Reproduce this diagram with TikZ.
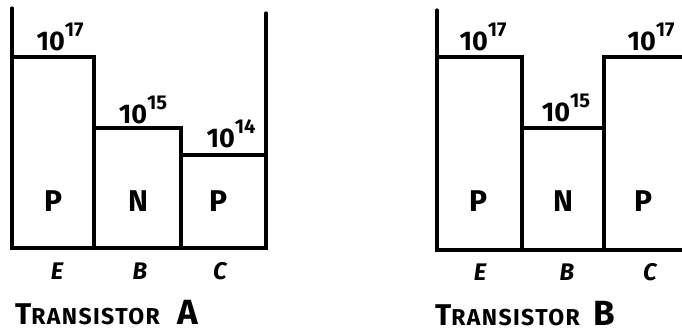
\documentclass[tikz,border=0pt]{standalone}
\usepackage{fontspec}
\setmainfont{Fira Sans}
\newcommand{\dopexp}[1]{10\raisebox{0.5em}{\fontsize{20}{20}\selectfont #1}}
\begin{document}
\begin{tikzpicture}[x=1pt, y=-1pt,
  wall/.style={line width=3.2pt, line cap=round},
  dop/.style={anchor=base, inner sep=0pt, font=\bfseries\fontsize{27}{27}\selectfont},
  typ/.style={inner sep=0pt, font=\bfseries\fontsize{30}{30}\selectfont},
  reg/.style={inner sep=0pt, font=\bfseries\itshape\fontsize{24}{24}\selectfont},
  ttl/.style={anchor=base west, inner sep=0pt, font=\bfseries}]
\useasboundingbox (0,0) rectangle (682,333);

 % transistor A
 \draw[wall] (12,8) -- (12,248) -- (266,248) -- (266,13);
 \foreach \l/\r/\t in {12/94/57, 94/181/128, 181/266/155}
   \draw[wall] (\l,248) -- (\l,\t) -- (\r,\t) -- (\r,248);

 \foreach \x/\y/\e/\n in {60/50/17/dopAE, 143/123/15/dopAB, 231/147/14/dopAC}
   \node[dop] (\n) at (\x,\y) {\dopexp{\e}};

 \foreach \x/\name/\n in {53/P/typAE, 138/N/typAB, 218/P/typAC}
   \node[typ] (\n) at (\x,201) {\name};

 \foreach \x/\name/\n in {57/E/regAE, 140/B/regAB, 220/C/regAC}
   \node[reg] (\n) at (\x,271) {\name};

 \node[ttl] (titleA) at (15,324) {{\fontsize{30}{30}\selectfont T}{\fontsize{23}{23}\selectfont\addfontfeature{LetterSpace=6} RANSISTOR}\hspace{18pt}{\fontsize{35}{35}\selectfont A}};

 %transistor B
 \draw[wall] (437,10) -- (437,250) -- (682,250);
 \foreach \l/\r/\t in {437/522/57, 522/604/128, 604/690/57}
   \draw[wall] (\l,250) -- (\l,\t) -- (\r,\t) -- (\r,250);

 \foreach \x/\y/\e/\n in {483/50/17/dopBE, 566/121/15/dopBB, 651/50/17/dopBC}
   \node[dop] (\n) at (\x,\y) {\dopexp{\e}};

 \foreach \x/\name/\n in {478/P/typBE, 563/N/typBB, 643/P/typBC}
   \node[typ] (\n) at (\x,201) {\name};

 \foreach \x/\name/\n in {480/E/regBE, 567/B/regBB, 650/C/regBC}
   \node[reg] (\n) at (\x,272) {\name};

 \node[ttl] (titleB) at (435,325) {{\fontsize{30}{30}\selectfont T}{\fontsize{23}{23}\selectfont\addfontfeature{LetterSpace=6} RANSISTOR}\hspace{14pt}{\fontsize{35}{35}\selectfont B}};

\end{tikzpicture}
\end{document}
